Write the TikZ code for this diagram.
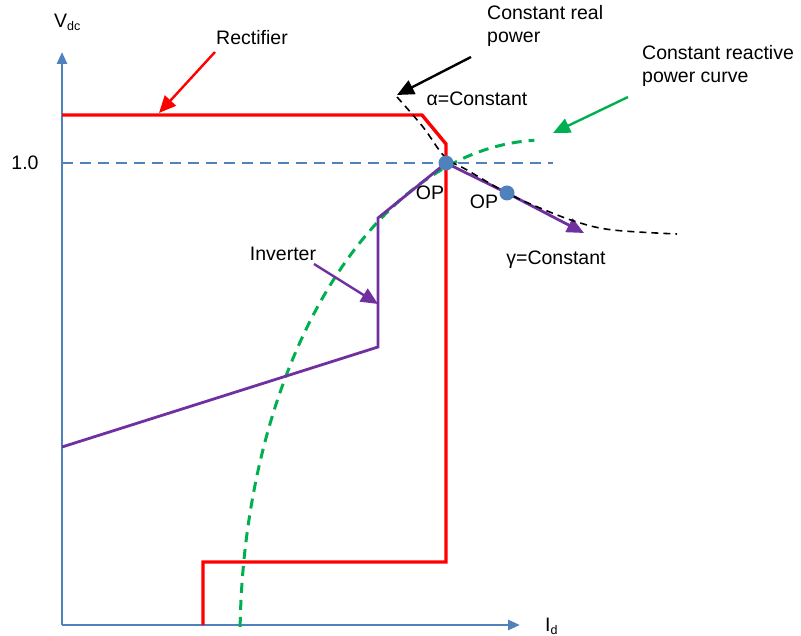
\documentclass[tikz,border=0pt]{standalone}
\usepackage{fontspec}
\setmainfont{Liberation Sans}
\usetikzlibrary{arrows.meta}

\definecolor{axisblue}{HTML}{4F81BD}
\definecolor{rectred}{HTML}{FF0000}
\definecolor{invpurple}{HTML}{7030A0}
\definecolor{reacgreen}{HTML}{00B050}

\tikzset{
  lbl/.style={font=\fontsize{19.5}{23}\selectfont, inner sep=0pt},
  axisline/.style={axisblue, line width=2.6pt, -{Triangle[length=12pt,width=10pt]}},
  tip/.style={-{Triangle[length=17pt,width=15pt]}, line width=2.4pt},
  opdot/.style={circle, fill=axisblue, minimum size=15pt, inner sep=0pt}
}

\begin{document}
\begin{tikzpicture}[x=1pt,y=-1pt]
  \useasboundingbox (0,0) rectangle (801,636);
  % axes
  \coordinate (origin) at (62,625);
  \coordinate (vtop) at (62,52);
  \coordinate (iend) at (520,625);
  \draw[axisline] (origin) -- (vtop);
  \draw[axisline] (origin) -- (iend);
  \node[lbl, anchor=west] (vdc) at (54,22) {V\textsubscript{\fontsize{12.5}{12}\selectfont dc}};
  \node[lbl, anchor=west] (id) at (545,626) {I\textsubscript{\fontsize{12.5}{12}\selectfont d}};
  % 1.0 level
  \node[lbl] (one) at (25,163) {1.0};
  \draw[axisblue, line width=1.6pt, dash pattern=on 11pt off 7pt] (62,163) -- (553,163);
  % rectifier characteristic
  \draw[rectred, line width=3.4pt] (62,115) -- (422,115) -- (446,144) -- (446,562) -- (203,562) -- (203,625);
  % constant reactive power curve
  \draw[reacgreen, line width=3pt, dash pattern=on 10pt off 7pt]
    plot[domain=178.5:92, samples=80] ({545+305*cos(\x)},{640-500*sin(\x)});
  % inverter characteristic
  \coordinate (op1) at (446,163);
  \coordinate (op2) at (507,193);
  \coordinate (invend) at (584,233);
  \draw[invpurple, line width=2.8pt] (62,447) -- (378,347) -- (378,218) -- (op1) -- (op2);
  \draw[invpurple, line width=2.8pt, -{Triangle[length=17pt,width=15pt]}] (op2) -- (invend);
  % constant real power curve
  \draw[black, line width=1.6pt, dash pattern=on 7pt off 5pt]
    plot[smooth, tension=0.6] coordinates {(397,97) (423,127) (445,157) (467,170) (507,193) (540,208) (577,222) (613,230) (677,234)};
  % operating points
  \node[opdot] (dot1) at (op1) {};
  \node[opdot] (dot2) at (op2) {};
  \node[lbl] (oplab1) at (430,193) {OP};
  \node[lbl] (oplab2) at (484,202) {OP};
  % labels
  \node[lbl] (alpha) at (477,99) {α=Constant};
  \node[lbl] (gamma) at (556,260) {γ=Constant};
  \node[lbl] (rect) at (252,38) {Rectifier};
  \node[lbl] (inv) at (283,254) {Inverter};
  \node[lbl, anchor=north west, align=left] (realp) at (487,5) {Constant real\\power};
  \node[lbl, anchor=north west, align=left] (reacp) at (642,45) {Constant reactive\\power curve};
  % label arrows
  \coordinate (recttip) at (159,113);
  \coordinate (invtip) at (378,304);
  \coordinate (realtip) at (397,95);
  \coordinate (reactip) at (553,133);
  \draw[tip, rectred] (215,52) -- (recttip);
  \draw[tip, invpurple] (314,264) -- (invtip);
  \draw[tip, black] (471,57) -- (realtip);
  \draw[tip, reacgreen] (628,97) -- (reactip);
\end{tikzpicture}
\end{document}
